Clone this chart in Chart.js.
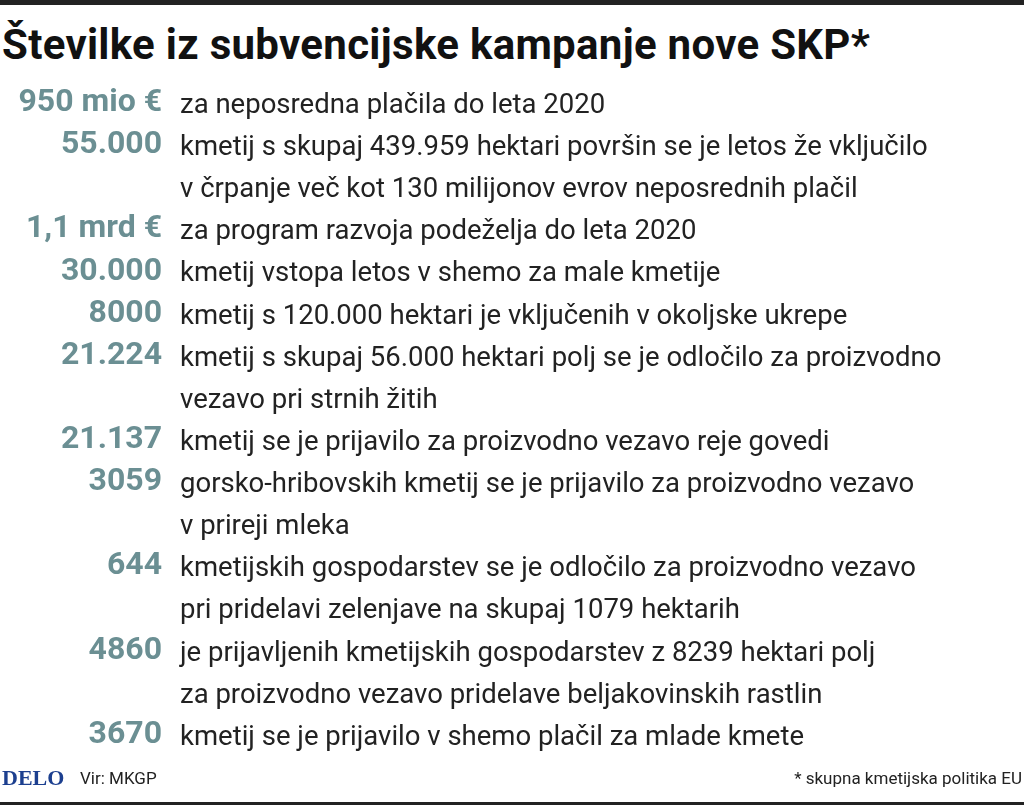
<!DOCTYPE html>
<html><head><meta charset="utf-8">
<script src="https://cdn.jsdelivr.net/npm/chart.js@4"></script>
<style>
body{margin:0;background:#fff;width:1024px;height:808px;overflow:hidden;position:relative;font-family:"Roboto",sans-serif}
#top{position:absolute;left:0;top:0;width:1024px;height:5px;background:#222}
#bot{position:absolute;left:0;top:802px;width:1024px;height:3px;background:#222}
#title{position:absolute;left:2px;top:20px;font:bold 42px "Roboto",sans-serif;color:#111;white-space:nowrap;letter-spacing:0.3px}
#logo{position:absolute;left:2px;top:765px;font:bold 22px "Liberation Serif",serif;color:#1c3f8f}
#src{position:absolute;left:80px;top:768px;font:17px "Roboto",sans-serif;color:#222}
#note{position:absolute;right:2px;top:768px;font:17px "Roboto",sans-serif;color:#222}
canvas{position:absolute;left:0;top:0}
</style></head><body>
<div id="top"></div>
<div id="title">Številke iz subvencijske kampanje nove SKP*</div>
<div style="position:absolute;left:0;top:0;width:1024px;height:808px"><canvas id="c" width="1024" height="808"></canvas></div>
<div id="logo">DELO</div><div id="src">Vir: MKGP</div><div id="note">* skupna kmetijska politika EU</div>
<div id="bot"></div>
<script>
const figures = ["950 mio €","55.000","","1,1 mrd €","30.000","8000","21.224","","21.137","3059","","644","","4860","","3670"];
const lines = [
"za neposredna plačila do leta 2020",
"kmetij s skupaj 439.959 hektari površin se je letos že vključilo",
"v črpanje več kot 130 milijonov evrov neposrednih plačil",
"za program razvoja podeželja do leta 2020",
"kmetij vstopa letos v shemo za male kmetije",
"kmetij s 120.000 hektari je vključenih v okoljske ukrepe",
"kmetij s skupaj 56.000 hektari polj se je odločilo za proizvodno",
"vezavo pri strnih žitih",
"kmetij se je prijavilo za proizvodno vezavo reje govedi",
"gorsko-hribovskih kmetij se je prijavilo za proizvodno vezavo",
"v prireji mleka",
"kmetijskih gospodarstev se je odločilo za proizvodno vezavo",
"pri pridelavi zelenjave na skupaj 1079 hektarih",
"je prijavljenih kmetijskih gospodarstev z 8239 hektari polj",
"za proizvodno vezavo pridelave beljakovinskih rastlin",
"kmetij se je prijavilo v shemo plačil za mlade kmete"];
const values = lines.map(()=>0);
const textPlugin = {id:'txt',afterDraw(ch){
  const y=ch.scales.y, c=ch.ctx; c.save();
  c.font='27.5px "Roboto",sans-serif'; c.fillStyle='#222'; c.textBaseline='middle'; c.textAlign='left';
  lines.forEach((t,i)=>c.fillText(t,180,y.getPixelForValue(i)+3));
  c.restore();}};
new Chart(document.getElementById('c'),{type:'bar',
 data:{labels:lines,datasets:[{data:values}]},
 options:{indexAxis:'y',responsive:false,animation:false,
  layout:{padding:{top:82,bottom:52,left:0,right:10}},
  plugins:{legend:{display:false},tooltip:{enabled:false}},
  scales:{x:{display:false,min:0,max:1},
   y:{grid:{display:false},border:{display:false},
    afterFit(s){s.width=172;},
    ticks:{padding:2,color:'#6b8f93',font:{family:'"Roboto",sans-serif',size:32,weight:'bold'},
     callback:(v,i)=>figures[i]}}}},
 plugins:[textPlugin]});
</script></body></html>
